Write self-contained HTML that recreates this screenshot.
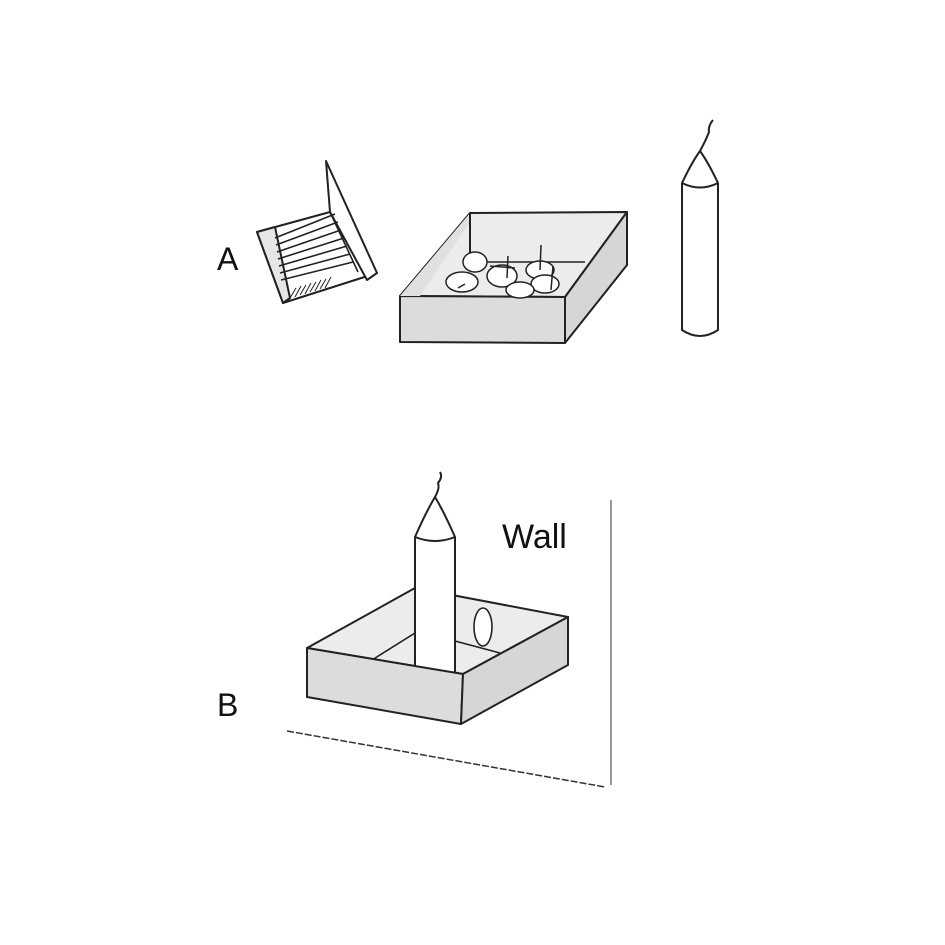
<!DOCTYPE html>
<html><head><style>body{margin:0;background:#fff}svg{display:block}</style></head><body>
<svg width="945" height="945" viewBox="0 0 945 945" xmlns="http://www.w3.org/2000/svg" font-family="Liberation Sans, sans-serif">
<rect width="945" height="945" fill="#fff"/>
<g stroke="#222" stroke-width="2" stroke-linejoin="round" fill="none">
<!-- Matchbox -->
<polygon points="257,232 330,212 377,273 283,303" fill="#fff"/>
<polygon points="257,232 275,227 290,298 283,303" fill="#e6e6e6"/>
<polygon points="326,161 377,273 367,280 330,212" fill="#fff"/>
<g stroke-width="1.6">
<line x1="275" y1="238" x2="335" y2="214"/><line x1="276" y1="245" x2="338" y2="222"/>
<line x1="277" y1="252" x2="341" y2="230"/><line x1="278" y1="259" x2="344" y2="238"/>
<line x1="279" y1="266" x2="347" y2="246"/><line x1="280" y1="273" x2="350" y2="254"/>
<line x1="281" y1="280" x2="353" y2="262"/>
<line x1="330" y1="212" x2="358" y2="272"/>
</g>
<g stroke-width="1">
<line x1="290" y1="298" x2="296" y2="288"/><line x1="295" y1="297" x2="301" y2="286"/>
<line x1="300" y1="295" x2="306" y2="285"/><line x1="305" y1="294" x2="311" y2="283"/>
<line x1="310" y1="292" x2="316" y2="282"/><line x1="315" y1="291" x2="321" y2="280"/>
<line x1="320" y1="289" x2="326" y2="279"/><line x1="325" y1="288" x2="331" y2="277"/>
</g>
<!-- Box A -->
<polygon points="400,296 470,213 627,212 565,297" fill="#ececec"/>
<polygon points="400,296 565,297 565,343 400,342" fill="#dcdcdc"/>
<polygon points="565,297 627,212 627,265 565,343" fill="#d6d6d6"/>
<polygon points="420,296 470,222 470,213 400,296" fill="#e0e0e0" stroke="none"/>
<line x1="470" y1="213" x2="470" y2="262"/>
<line x1="470" y1="262" x2="585" y2="262" stroke-width="1.5"/>
<g fill="#fff" stroke-width="1.5">
<ellipse cx="475" cy="262" rx="12" ry="10"/>
<ellipse cx="462" cy="282" rx="16" ry="10"/>
<ellipse cx="502" cy="276" rx="15" ry="11"/>
<ellipse cx="540" cy="270" rx="14" ry="9"/>
<ellipse cx="545" cy="284" rx="14" ry="9"/>
<ellipse cx="520" cy="290" rx="14" ry="8"/>
</g>
<g stroke-width="1.5">
<line x1="508" y1="256" x2="507" y2="278"/><line x1="541" y1="245" x2="540" y2="270"/>
<line x1="490" y1="266" x2="515" y2="268"/><line x1="465" y1="284" x2="458" y2="288"/>
<line x1="553" y1="266" x2="551" y2="290"/>
</g>
<!-- Candle A -->
<path d="M682,183 L682,330 Q700,342 718,330 L718,183" fill="#fff"/>
<path d="M682,183 Q692,162 700,151 Q708,162 718,183 Q700,192 682,183 Z" fill="#fff"/>
<path d="M700,151 Q706,140 709,132 Q708,126 713,120" stroke-width="2"/>
<!-- Wall & floor -->
<line x1="611" y1="500" x2="611" y2="785" stroke="#777" stroke-width="1.5"/>
<line x1="287" y1="731" x2="605" y2="787" stroke="#333" stroke-width="1.5" stroke-dasharray="7,2"/>
<!-- Box B -->
<polygon points="307,648 415,588 568,617 463,674" fill="#ececec"/>
<polyline points="372,660 415,633 415,588" stroke-width="1.6"/>
<polyline points="455,641 500,653" stroke-width="1.6"/>
<ellipse cx="483" cy="627" rx="9" ry="19" fill="#fff" stroke-width="1.6"/>
<!-- Candle B -->
<path d="M415,537 L415,672 L455,678 L455,537" fill="#fff"/>
<path d="M415,537 Q426,512 435,497 Q444,512 455,537 Q435,545 415,537 Z" fill="#fff"/>
<path d="M435,497 Q440,488 438,483 Q443,477 440,472" stroke-width="2"/>
<polygon points="307,648 463,674 461,724 307,697" fill="#dcdcdc"/>
<polygon points="463,674 568,617 568,665 461,724" fill="#d6d6d6"/>
</g>
<text x="217" y="270" font-size="32" fill="#111">A</text>
<text x="217" y="716" font-size="32" fill="#111">B</text>
<text x="502" y="548" font-size="34" fill="#111">Wall</text>
</svg>
</body></html>
